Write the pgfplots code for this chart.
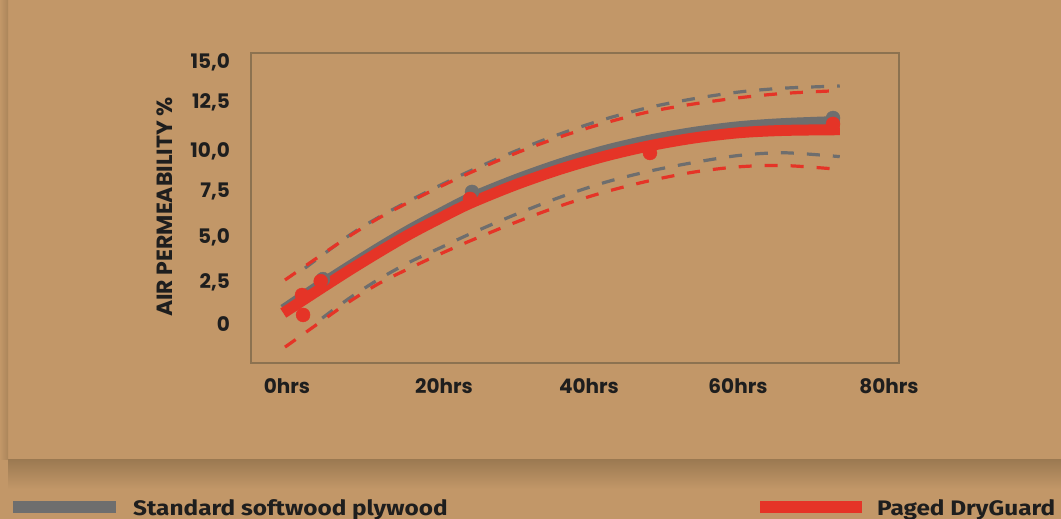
\documentclass[border=0pt]{standalone}
\usepackage{pgfplots}
\pgfplotsset{compat=1.18}
\usepackage{fontspec}
\setmainfont{Poppins}
\newfontfamily\legfont[FakeStretch=1.16]{Fira Sans}
\definecolor{bg}{RGB}{194,151,104}
\definecolor{shadow}{RGB}{156,122,82}
\definecolor{stdgray}{RGB}{110,110,110}
\definecolor{dgred}{RGB}{229,52,39}
\definecolor{frame}{RGB}{140,114,80}
\definecolor{txt}{RGB}{30,30,30}

\begin{document}
\begin{tikzpicture}[x=1pt,y=1pt]
\clip (0,0) rectangle (1061,519);
\fill[bg] (0,0) rectangle (1061,519);
% panel shadow
\shade[top color=shadow, bottom color=bg] (8,30) rectangle (1061,59);
\shade[left color=bg, right color=shadow!60!bg] (0,59) rectangle (8,519);

\begin{axis}[
  at={(251pt,156pt)}, anchor=south west,
  scale only axis, width=648pt, height=310pt,
  xmin=-5.21, xmax=81.31, ymin=-2.23, ymax=15.51,
  axis line style={frame, line width=1.2pt},
  major tick length=0pt,
  xtick={-0.4,20.56,39.92,59.81,79.97},
  xticklabels={0hrs,20hrs,40hrs,60hrs,80hrs},
  ytick={0,2.40,4.98,7.61,9.90,12.71,15},
  yticklabels={0,{2,5},{5,0},{7,5},{10,0},{12,5},{15,0}},
  tick label style={font=\fontsize{20}{22}\selectfont\bfseries, text=txt},
  xticklabel style={anchor=north, inner sep=0pt, yshift=-15pt},
  yticklabel style={anchor=east, inner sep=0pt, xshift=-21pt},
  ylabel={AIR PERMEABILITY \%},
  ylabel style={at={(axis description cs:-0.133,0.503)}, anchor=center,
    font=\fontsize{22}{24}\selectfont\bfseries, text=txt},
]
% confidence bands, standard plywood
\addplot[stdgray, line width=3.2pt, dash pattern=on 13pt off 13pt, smooth] coordinates {
  (2,3.2) (8,5.1) (12,6.15) (16,7.07) (20,7.93) (24,8.75) (30,9.88) (36,10.87)
  (42,11.72) (48,12.4) (54,12.9) (60,13.28) (66,13.5) (73.4,13.62)};
\addplot[stdgray, line width=3.2pt, dash pattern=on 13pt off 13pt, smooth] coordinates {
  (4.3,0.34) (8,1.5) (12,2.6) (16,3.55) (20,4.35) (24,5.15) (30,6.25) (36,7.25)
  (42,8.1) (48,8.75) (54,9.25) (60,9.65) (66,9.8) (73.4,9.58)};
% confidence bands, DryGuard
\addplot[dgred, line width=3.2pt, dash pattern=on 13pt off 13pt, smooth] coordinates {
  (-0.67,2.52) (4,3.9) (8,5.05) (12,6.1) (16,7.0) (20,7.85) (24,8.65) (30,9.75)
  (36,10.7) (42,11.5) (48,12.15) (54,12.6) (60,12.95) (66,13.2) (73.4,13.36)};
\addplot[dgred, line width=3.2pt, dash pattern=on 13pt off 13pt, smooth] coordinates {
  (-0.67,-1.32) (4,0.1) (8,1.3) (12,2.35) (16,3.2) (20,4.0) (24,4.75) (30,5.8)
  (36,6.75) (42,7.55) (48,8.2) (54,8.7) (60,9.0) (66,9.07) (73.4,8.85)};
% standard softwood plywood
\addplot[stdgray, line width=10pt, smooth] coordinates {
  (-0.9,0.85) (4,2.25) (8,3.35) (12,4.42) (16,5.43) (20,6.35) (24,7.22) (30,8.27)
  (36,9.18) (42,9.95) (48,10.55) (54,11.0) (60,11.32) (66,11.5) (73.4,11.62)};
\addplot[only marks, mark=*, mark size=7pt, stdgray] coordinates {
  (4.4,2.57) (24.3,7.56) (72.5,11.79)};
% Paged DryGuard
\addplot[dgred, line width=11pt, smooth] coordinates {
  (-0.9,0.63) (4,2.0) (8,3.1) (12,4.15) (16,5.15) (20,6.05) (24,6.9) (30,7.95)
  (36,8.85) (42,9.6) (48,10.2) (54,10.65) (60,10.95) (66,11.08) (73.4,11.12)};
\addplot[only marks, mark=*, mark size=7pt, dgred] coordinates {
  (1.60,1.66) (1.74,0.52) (4.1,2.45) (24.03,7.16) (48.06,9.79) (72.5,11.45)};
\end{axis}

% legend
\fill[stdgray] (13,6) rectangle (116,18);
\node[anchor=base west, inner sep=0pt, text=txt, font=\legfont\fontsize{21}{23}\selectfont\bfseries] at (133,3) {Standard softwood plywood};
\fill[dgred] (760,6) rectangle (862,18);
\node[anchor=base west, inner sep=0pt, text=txt, font=\legfont\fontsize{21}{23}\selectfont\bfseries] at (877,3) {Paged DryGuard};
\end{tikzpicture}
\end{document}
